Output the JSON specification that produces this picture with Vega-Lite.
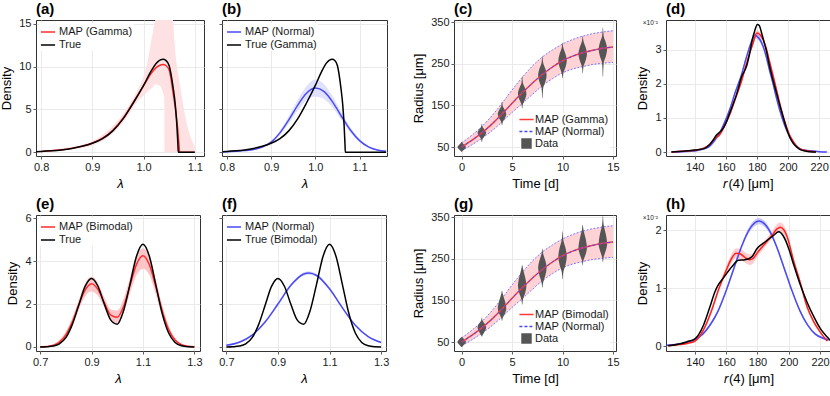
{
"$schema": "https://vega.github.io/schema/vega-lite/v6.json",
"padding": {"left": 0, "top": 1, "right": 0, "bottom": 0},
"config": {
  "font": "Liberation Sans",
  "view": {"stroke": "#333333", "strokeWidth": 1},
  "axis": {"domain": false, "grid": true, "gridColor": "#e4e4e4", "gridWidth": 0.8, "tickColor": "#333333", "tickSize": 3, "tickWidth": 0.8, "labelFontSize": 11, "labelColor": "#1a1a1a", "titleFontSize": 13, "titleFontWeight": "normal", "titleColor": "#000000", "labelPadding": 2, "labelFlush": false, "labelOverlap": false, "titlePadding": 5},
  "legend": {"title": null, "labelFontSize": 11, "labelColor": "#1a1a1a", "rowPadding": 0, "padding": 1, "offset": 3, "labelOffset": 3, "symbolStrokeWidth": 1.5, "symbolSize": 200, "fillColor": "white"},
  "text": {"font": "Liberation Sans"}
},
"datasets": {
  "gamma_true": [
    {"x":0.79,"y":0.08},{"x":0.80,"y":0.1},{"x":0.82,"y":0.17},{"x":0.84,"y":0.28},{"x":0.86,"y":0.45},{"x":0.88,"y":0.7},{"x":0.90,"y":1.05},{"x":0.92,"y":1.6},{"x":0.94,"y":2.5},{"x":0.96,"y":3.9},{"x":0.98,"y":5.75},{"x":1.00,"y":7.8},{"x":1.015,"y":9.5},{"x":1.025,"y":10.4},{"x":1.032,"y":10.75},{"x":1.038,"y":10.85},{"x":1.044,"y":10.7},{"x":1.05,"y":10.1},{"x":1.0576,"y":7.6},{"x":1.062,"y":5.5},{"x":1.065,"y":3.2},{"x":1.067,"y":1.0},{"x":1.0678,"y":0},{"x":1.08,"y":0},{"x":1.1,"y":0},{"x":1.16,"y":0}
  ],
  "gamma_map": [
    {"x":0.80,"y":0.1},{"x":0.82,"y":0.17},{"x":0.84,"y":0.29},{"x":0.86,"y":0.46},{"x":0.88,"y":0.72},{"x":0.90,"y":1.08},{"x":0.92,"y":1.65},{"x":0.94,"y":2.58},{"x":0.96,"y":3.98},{"x":0.98,"y":5.85},{"x":1.00,"y":7.75},{"x":1.015,"y":9.2},{"x":1.025,"y":9.9},{"x":1.032,"y":10.15},{"x":1.038,"y":10.25},{"x":1.044,"y":10.1},{"x":1.05,"y":9.6},{"x":1.0576,"y":6.95},{"x":1.064,"y":4.2},{"x":1.067,"y":2.5},{"x":1.069,"y":1.0},{"x":1.0705,"y":0},{"x":1.08,"y":0},{"x":1.1,"y":0}
  ],
  "a_band": [
    {"x":0.8,"lo":0.05,"hi":0.15},{"x":0.85,"lo":0.3,"hi":0.55},{"x":0.9,"lo":0.8,"hi":1.3},{"x":0.95,"lo":2.8,"hi":3.7},{"x":0.97,"lo":4.3,"hi":5.3},{"x":0.989,"lo":6.0,"hi":7.35},{"x":1.0,"lo":6.6,"hi":8.8},{"x":1.0086,"lo":7.15,"hi":10.8},{"x":1.018,"lo":7.6,"hi":13.95},{"x":1.023,"lo":7.9,"hi":15.5},{"x":1.025,"lo":7.9,"hi":15.9},{"x":1.03,"lo":7.8,"hi":17},{"x":1.033,"lo":7.7,"hi":17},{"x":1.038,"lo":6.95,"hi":17},{"x":1.0405,"lo":6.5,"hi":17},{"x":1.041,"lo":0,"hi":17},{"x":1.055,"lo":0,"hi":17},{"x":1.0576,"lo":0,"hi":15.4},{"x":1.061,"lo":0,"hi":12.4},{"x":1.0706,"lo":0,"hi":8.1},{"x":1.08,"lo":0,"hi":4.6},{"x":1.09,"lo":0,"hi":2.1},{"x":1.1,"lo":0,"hi":0.73}
  ],
  "normal_b": [
    {"x":0.79,"y":0.06,"lo":0.04,"hi":0.08},{"x":0.80,"y":0.08,"lo":0.05,"hi":0.11},{"x":0.82,"y":0.13,"lo":0.09,"hi":0.17},{"x":0.84,"y":0.2,"lo":0.15,"hi":0.26},{"x":0.86,"y":0.32,"lo":0.26,"hi":0.4},{"x":0.88,"y":0.62,"lo":0.52,"hi":0.72},{"x":0.90,"y":1.18,"lo":1.05,"hi":1.32},{"x":0.92,"y":2.27,"lo":2.0,"hi":2.55},{"x":0.94,"y":3.78,"lo":3.35,"hi":4.2},{"x":0.96,"y":5.48,"lo":4.85,"hi":6.1},{"x":0.98,"y":6.88,"lo":6.05,"hi":7.7},{"x":1.00,"y":7.49,"lo":6.5,"hi":8.5},{"x":1.02,"y":7.08,"lo":6.2,"hi":7.95},{"x":1.04,"y":5.8,"lo":5.15,"hi":6.45},{"x":1.06,"y":4.12,"lo":3.7,"hi":4.55},{"x":1.08,"y":2.54,"lo":2.25,"hi":2.85},{"x":1.10,"y":1.36,"lo":1.2,"hi":1.55},{"x":1.12,"y":0.63,"lo":0.53,"hi":0.75},{"x":1.14,"y":0.27,"lo":0.2,"hi":0.35},{"x":1.16,"y":0.12,"lo":0.08,"hi":0.17}
  ],
  "growth": [
    {"t":0,"r":50,"lo":41,"hi":60},{"t":1,"r":66,"lo":55,"hi":78},{"t":2,"r":84,"lo":71,"hi":99},{"t":3,"r":105,"lo":89,"hi":125},{"t":4,"r":129,"lo":110,"hi":155},{"t":5,"r":155,"lo":133,"hi":187},{"t":6,"r":180,"lo":154,"hi":217},{"t":7,"r":203,"lo":176,"hi":244},{"t":8,"r":224,"lo":197,"hi":266},{"t":9,"r":242,"lo":214,"hi":283},{"t":10,"r":257,"lo":228,"hi":297},{"t":11,"r":268,"lo":237,"hi":308},{"t":12,"r":276,"lo":243,"hi":316},{"t":13,"r":282,"lo":248,"hi":322},{"t":14,"r":287,"lo":251,"hi":326},{"t":15,"r":290,"lo":253,"hi":329}
  ],
  "c_viol": [
    {"t":0,"r":38,"lo":-0.02,"hi":0.02},{"t":0,"r":41,"lo":-0.1,"hi":0.1},{"t":0,"r":45.5,"lo":-0.3,"hi":0.3},{"t":0,"r":50,"lo":-0.42,"hi":0.42},{"t":0,"r":54.5,"lo":-0.3,"hi":0.3},{"t":0,"r":59,"lo":-0.1,"hi":0.1},{"t":0,"r":62,"lo":-0.02,"hi":0.02},
    {"t":2,"r":62,"lo":1.98,"hi":2.02},{"t":2,"r":70,"lo":1.92,"hi":2.08},{"t":2,"r":77,"lo":1.7,"hi":2.3},{"t":2,"r":84,"lo":1.58,"hi":2.42},{"t":2,"r":91,"lo":1.7,"hi":2.3},{"t":2,"r":98,"lo":1.92,"hi":2.08},{"t":2,"r":106,"lo":1.98,"hi":2.02},
    {"t":4,"r":102,"lo":3.98,"hi":4.02},{"t":4,"r":110,"lo":3.92,"hi":4.08},{"t":4,"r":119.5,"lo":3.7,"hi":4.3},{"t":4,"r":129,"lo":3.58,"hi":4.42},{"t":4,"r":138.5,"lo":3.7,"hi":4.3},{"t":4,"r":148,"lo":3.92,"hi":4.08},{"t":4,"r":159,"lo":3.98,"hi":4.02},
    {"t":6,"r":143,"lo":5.98,"hi":6.02},{"t":6,"r":153,"lo":5.92,"hi":6.08},{"t":6,"r":165.5,"lo":5.7,"hi":6.3},{"t":6,"r":178,"lo":5.58,"hi":6.42},{"t":6,"r":190.5,"lo":5.7,"hi":6.3},{"t":6,"r":203,"lo":5.92,"hi":6.08},{"t":6,"r":219,"lo":5.98,"hi":6.02},
    {"t":8,"r":167,"lo":7.98,"hi":8.02},{"t":8,"r":191,"lo":7.92,"hi":8.08},{"t":8,"r":206.5,"lo":7.7,"hi":8.3},{"t":8,"r":222,"lo":7.58,"hi":8.42},{"t":8,"r":237,"lo":7.7,"hi":8.3},{"t":8,"r":252,"lo":7.92,"hi":8.08},{"t":8,"r":268,"lo":7.98,"hi":8.02},
    {"t":10,"r":215,"lo":9.98,"hi":10.02},{"t":10,"r":227,"lo":9.92,"hi":10.08},{"t":10,"r":242,"lo":9.7,"hi":10.3},{"t":10,"r":257,"lo":9.58,"hi":10.42},{"t":10,"r":272.5,"lo":9.7,"hi":10.3},{"t":10,"r":288,"lo":9.92,"hi":10.08},{"t":10,"r":300,"lo":9.98,"hi":10.02},
    {"t":12,"r":227,"lo":11.98,"hi":12.02},{"t":12,"r":243,"lo":11.92,"hi":12.08},{"t":12,"r":258.5,"lo":11.7,"hi":12.3},{"t":12,"r":274,"lo":11.58,"hi":12.42},{"t":12,"r":289,"lo":11.7,"hi":12.3},{"t":12,"r":304,"lo":11.92,"hi":12.08},{"t":12,"r":316,"lo":11.98,"hi":12.02},
    {"t":14,"r":219,"lo":13.98,"hi":14.02},{"t":14,"r":252,"lo":13.92,"hi":14.08},{"t":14,"r":268.5,"lo":13.7,"hi":14.3},{"t":14,"r":285,"lo":13.58,"hi":14.42},{"t":14,"r":300.5,"lo":13.7,"hi":14.3},{"t":14,"r":316,"lo":13.92,"hi":14.08},{"t":14,"r":336,"lo":13.98,"hi":14.02}
  ],
  "g_viol": [
    {"t":0,"r":38,"lo":-0.02,"hi":0.02},{"t":0,"r":40,"lo":-0.1,"hi":0.1},{"t":0,"r":45,"lo":-0.3,"hi":0.3},{"t":0,"r":50,"lo":-0.42,"hi":0.42},{"t":0,"r":55,"lo":-0.3,"hi":0.3},{"t":0,"r":60,"lo":-0.1,"hi":0.1},{"t":0,"r":62,"lo":-0.02,"hi":0.02},
    {"t":2,"r":63,"lo":1.98,"hi":2.02},{"t":2,"r":67,"lo":1.92,"hi":2.08},{"t":2,"r":76,"lo":1.7,"hi":2.3},{"t":2,"r":85,"lo":1.58,"hi":2.42},{"t":2,"r":93,"lo":1.7,"hi":2.3},{"t":2,"r":101,"lo":1.92,"hi":2.08},{"t":2,"r":108,"lo":1.98,"hi":2.02},
    {"t":4,"r":101,"lo":3.98,"hi":4.02},{"t":4,"r":108,"lo":3.92,"hi":4.08},{"t":4,"r":119,"lo":3.7,"hi":4.3},{"t":4,"r":130,"lo":3.58,"hi":4.42},{"t":4,"r":147,"lo":3.7,"hi":4.3},{"t":4,"r":165,"lo":3.92,"hi":4.08},{"t":4,"r":173,"lo":3.98,"hi":4.02},
    {"t":6,"r":140,"lo":5.98,"hi":6.02},{"t":6,"r":152,"lo":5.92,"hi":6.08},{"t":6,"r":168,"lo":5.7,"hi":6.3},{"t":6,"r":185,"lo":5.58,"hi":6.42},{"t":6,"r":205,"lo":5.7,"hi":6.3},{"t":6,"r":226,"lo":5.92,"hi":6.08},{"t":6,"r":234,"lo":5.98,"hi":6.02},
    {"t":8,"r":181,"lo":7.98,"hi":8.02},{"t":8,"r":193,"lo":7.92,"hi":8.08},{"t":8,"r":210,"lo":7.7,"hi":8.3},{"t":8,"r":228,"lo":7.58,"hi":8.42},{"t":8,"r":245,"lo":7.7,"hi":8.3},{"t":8,"r":262,"lo":7.92,"hi":8.08},{"t":8,"r":274,"lo":7.98,"hi":8.02},
    {"t":10,"r":201,"lo":9.98,"hi":10.02},{"t":10,"r":218,"lo":9.92,"hi":10.08},{"t":10,"r":236,"lo":9.7,"hi":10.3},{"t":10,"r":255,"lo":9.58,"hi":10.42},{"t":10,"r":275,"lo":9.7,"hi":10.3},{"t":10,"r":295,"lo":9.92,"hi":10.08},{"t":10,"r":315,"lo":9.98,"hi":10.02},
    {"t":12,"r":234,"lo":11.98,"hi":12.02},{"t":12,"r":246,"lo":11.92,"hi":12.08},{"t":12,"r":261,"lo":11.7,"hi":12.3},{"t":12,"r":276,"lo":11.58,"hi":12.42},{"t":12,"r":297,"lo":11.7,"hi":12.3},{"t":12,"r":319,"lo":11.92,"hi":12.08},{"t":12,"r":331,"lo":11.98,"hi":12.02},
    {"t":14,"r":242,"lo":13.98,"hi":14.02},{"t":14,"r":254,"lo":13.92,"hi":14.08},{"t":14,"r":270,"lo":13.7,"hi":14.3},{"t":14,"r":285,"lo":13.58,"hi":14.42},{"t":14,"r":308,"lo":13.7,"hi":14.3},{"t":14,"r":331,"lo":13.92,"hi":14.08},{"t":14,"r":352,"lo":13.98,"hi":14.02}
  ],
  "d_true": [
    {"x":125,"y":0},{"x":132,"y":0.02},{"x":140,"y":0.06},{"x":146,"y":0.1},{"x":149.6,"y":0.22},{"x":152,"y":0.36},{"x":154,"y":0.5},{"x":156,"y":0.58},{"x":158,"y":0.68},{"x":160,"y":0.85},{"x":162.5,"y":1.15},{"x":165,"y":1.45},{"x":166.8,"y":1.68},{"x":168.5,"y":1.95},{"x":170,"y":2.2},{"x":172,"y":2.38},{"x":173.5,"y":2.55},{"x":175.3,"y":2.9},{"x":177,"y":3.3},{"x":178.5,"y":3.55},{"x":180.3,"y":3.75},{"x":181.5,"y":3.72},{"x":183,"y":3.5},{"x":184.5,"y":3.25},{"x":186,"y":2.99},{"x":188,"y":2.55},{"x":190.3,"y":2.12},{"x":192.5,"y":1.75},{"x":194.6,"y":1.39},{"x":196.7,"y":1.05},{"x":198.9,"y":0.71},{"x":201,"y":0.45},{"x":203.2,"y":0.27},{"x":205.5,"y":0.15},{"x":207.5,"y":0.08},{"x":211,"y":0.03},{"x":216,"y":0},{"x":218,"y":0}
  ],
  "d_red": [
    {"x":125,"y":0,"lo":0,"hi":0.01},{"x":132,"y":0.02,"lo":0.01,"hi":0.03},{"x":140,"y":0.05,"lo":0.03,"hi":0.07},{"x":145,"y":0.1,"lo":0.08,"hi":0.12},{"x":149.6,"y":0.22,"lo":0.19,"hi":0.25},{"x":153,"y":0.4,"lo":0.37,"hi":0.44},{"x":156,"y":0.51,"lo":0.47,"hi":0.55},{"x":159,"y":0.75,"lo":0.71,"hi":0.8},{"x":162.5,"y":1.1,"lo":1.05,"hi":1.16},{"x":166,"y":1.55,"lo":1.5,"hi":1.61},{"x":170,"y":2.07,"lo":2.01,"hi":2.14},{"x":173,"y":2.55,"lo":2.48,"hi":2.62},{"x":175.3,"y":2.9,"lo":2.83,"hi":2.97},{"x":177.5,"y":3.2,"lo":3.12,"hi":3.28},{"x":180,"y":3.5,"lo":3.42,"hi":3.58},{"x":182,"y":3.45,"lo":3.37,"hi":3.53},{"x":184,"y":3.3,"lo":3.22,"hi":3.38},{"x":186,"y":3.04,"lo":2.97,"hi":3.11},{"x":188,"y":2.68,"lo":2.61,"hi":2.75},{"x":190.3,"y":2.26,"lo":2.2,"hi":2.32},{"x":192.5,"y":1.85,"lo":1.8,"hi":1.9},{"x":194.6,"y":1.44,"lo":1.4,"hi":1.49},{"x":196.7,"y":1.08,"lo":1.04,"hi":1.12},{"x":198.9,"y":0.76,"lo":0.73,"hi":0.8},{"x":201,"y":0.5,"lo":0.47,"hi":0.53},{"x":203.2,"y":0.32,"lo":0.3,"hi":0.35},{"x":205.5,"y":0.18,"lo":0.16,"hi":0.2},{"x":207.5,"y":0.1,"lo":0.09,"hi":0.12},{"x":210.5,"y":0.05,"lo":0.04,"hi":0.06},{"x":213.9,"y":0.02,"lo":0.01,"hi":0.03},{"x":218,"y":0,"lo":0,"hi":0.01}
  ],
  "d_blue": [
    {"x":125,"y":0,"lo":0,"hi":0.01},{"x":132,"y":0.01,"lo":0,"hi":0.02},{"x":140,"y":0.03,"lo":0.02,"hi":0.05},{"x":145,"y":0.08,"lo":0.06,"hi":0.1},{"x":149.6,"y":0.17,"lo":0.14,"hi":0.2},{"x":153,"y":0.35,"lo":0.31,"hi":0.39},{"x":156,"y":0.56,"lo":0.52,"hi":0.6},{"x":159,"y":0.85,"lo":0.8,"hi":0.9},{"x":162.5,"y":1.25,"lo":1.19,"hi":1.31},{"x":166,"y":1.75,"lo":1.69,"hi":1.81},{"x":170,"y":2.26,"lo":2.19,"hi":2.33},{"x":173,"y":2.75,"lo":2.68,"hi":2.82},{"x":175.3,"y":3.09,"lo":3.01,"hi":3.17},{"x":177,"y":3.3,"lo":3.22,"hi":3.38},{"x":178.5,"y":3.43,"lo":3.35,"hi":3.51},{"x":180,"y":3.4,"lo":3.32,"hi":3.48},{"x":182,"y":3.3,"lo":3.22,"hi":3.38},{"x":184,"y":3.1,"lo":3.03,"hi":3.17},{"x":186,"y":2.8,"lo":2.73,"hi":2.87},{"x":188,"y":2.42,"lo":2.36,"hi":2.48},{"x":190.3,"y":2.02,"lo":1.96,"hi":2.08},{"x":192.5,"y":1.6,"lo":1.55,"hi":1.65},{"x":194.6,"y":1.24,"lo":1.2,"hi":1.28},{"x":196.7,"y":0.93,"lo":0.89,"hi":0.97},{"x":198.9,"y":0.66,"lo":0.63,"hi":0.69},{"x":201,"y":0.45,"lo":0.42,"hi":0.48},{"x":203.2,"y":0.27,"lo":0.25,"hi":0.3},{"x":205.5,"y":0.16,"lo":0.14,"hi":0.18},{"x":207.5,"y":0.1,"lo":0.09,"hi":0.12},{"x":211,"y":0.05,"lo":0.04,"hi":0.06},{"x":216,"y":0.03,"lo":0.02,"hi":0.04},{"x":220,"y":0.01,"lo":0,"hi":0.02},{"x":225,"y":0,"lo":0,"hi":0.01}
  ],
  "bimodal_true": [
    {"x":0.70,"y":0.0},{"x":0.725,"y":0.01},{"x":0.75,"y":0.04},{"x":0.775,"y":0.14},{"x":0.80,"y":0.43},{"x":0.825,"y":1.04},{"x":0.85,"y":1.93},{"x":0.875,"y":2.82},{"x":0.90,"y":3.19},{"x":0.925,"y":2.83},{"x":0.95,"y":1.99},{"x":0.975,"y":1.25},{"x":1.0,"y":1.06},{"x":1.025,"y":1.70},{"x":1.05,"y":2.94},{"x":1.075,"y":4.23},{"x":1.10,"y":4.79},{"x":1.125,"y":4.23},{"x":1.15,"y":2.905},{"x":1.175,"y":1.555},{"x":1.2,"y":0.648},{"x":1.225,"y":0.21},{"x":1.25,"y":0.053},{"x":1.275,"y":0.011},{"x":1.3,"y":0.002}
  ],
  "e_map": [
    {"x":0.70,"y":0.004,"lo":0.0,"hi":0.01},{"x":0.725,"y":0.02,"lo":0.01,"hi":0.04},{"x":0.75,"y":0.07,"lo":0.04,"hi":0.12},{"x":0.775,"y":0.22,"lo":0.14,"hi":0.32},{"x":0.80,"y":0.56,"lo":0.42,"hi":0.72},{"x":0.825,"y":1.16,"lo":0.98,"hi":1.35},{"x":0.85,"y":1.95,"lo":1.72,"hi":2.18},{"x":0.875,"y":2.65,"lo":2.35,"hi":2.95},{"x":0.90,"y":2.95,"lo":2.58,"hi":3.28},{"x":0.925,"y":2.68,"lo":2.38,"hi":2.98},{"x":0.95,"y":2.05,"lo":1.82,"hi":2.3},{"x":0.975,"y":1.48,"lo":1.25,"hi":1.75},{"x":1.0,"y":1.38,"lo":1.1,"hi":1.7},{"x":1.025,"y":1.9,"lo":1.6,"hi":2.25},{"x":1.05,"y":2.88,"lo":2.5,"hi":3.25},{"x":1.075,"y":3.85,"lo":3.35,"hi":4.3},{"x":1.1,"y":4.25,"lo":3.65,"hi":4.6},{"x":1.125,"y":3.83,"lo":3.35,"hi":4.25},{"x":1.15,"y":2.81,"lo":2.45,"hi":3.15},{"x":1.175,"y":1.68,"lo":1.42,"hi":1.95},{"x":1.2,"y":0.81,"lo":0.64,"hi":1.0},{"x":1.225,"y":0.32,"lo":0.22,"hi":0.42},{"x":1.25,"y":0.1,"lo":0.06,"hi":0.15},{"x":1.275,"y":0.027,"lo":0.01,"hi":0.05},{"x":1.3,"y":0.006,"lo":0.0,"hi":0.015}
  ],
  "f_map": [
    {"x":0.70,"y":0.075,"lo":0.05,"hi":0.1},{"x":0.75,"y":0.22,"lo":0.19,"hi":0.25},{"x":0.80,"y":0.55,"lo":0.5,"hi":0.6},{"x":0.85,"y":1.16,"lo":1.1,"hi":1.22},{"x":0.90,"y":2.0,"lo":1.93,"hi":2.07},{"x":0.95,"y":2.87,"lo":2.8,"hi":2.94},{"x":1.00,"y":3.4,"lo":3.33,"hi":3.48},{"x":1.02,"y":3.45,"lo":3.37,"hi":3.53},{"x":1.05,"y":3.33,"lo":3.26,"hi":3.41},{"x":1.10,"y":2.71,"lo":2.64,"hi":2.78},{"x":1.15,"y":1.82,"lo":1.76,"hi":1.88},{"x":1.20,"y":1.01,"lo":0.96,"hi":1.06},{"x":1.25,"y":0.48,"lo":0.44,"hi":0.52},{"x":1.30,"y":0.21,"lo":0.18,"hi":0.24}
  ],
  "h_true": [
    {"x":122.9,"y":0.01},{"x":130,"y":0.04},{"x":135,"y":0.08},{"x":140,"y":0.13},{"x":145.4,"y":0.36},{"x":149.6,"y":0.68},{"x":152.8,"y":0.94},{"x":155,"y":1.06},{"x":158,"y":1.17},{"x":163.6,"y":1.37},{"x":167.8,"y":1.48},{"x":172,"y":1.49},{"x":176.4,"y":1.54},{"x":179.6,"y":1.68},{"x":185,"y":1.8},{"x":190.3,"y":1.91},{"x":193.5,"y":1.97},{"x":196.7,"y":1.89},{"x":200,"y":1.68},{"x":203.2,"y":1.4},{"x":207.5,"y":1.05},{"x":211.7,"y":0.76},{"x":216,"y":0.51},{"x":220.3,"y":0.3},{"x":224.6,"y":0.16},{"x":227,"y":0.09}
  ],
  "h_red": [
    {"x":122.9,"y":0.01,"lo":0.0,"hi":0.02},{"x":130,"y":0.03,"lo":0.02,"hi":0.04},{"x":135,"y":0.05,"lo":0.04,"hi":0.07},{"x":140,"y":0.09,"lo":0.07,"hi":0.11},{"x":145.4,"y":0.28,"lo":0.25,"hi":0.31},{"x":150.7,"y":0.62,"lo":0.58,"hi":0.66},{"x":155,"y":0.97,"lo":0.92,"hi":1.02},{"x":160,"y":1.31,"lo":1.24,"hi":1.38},{"x":163.6,"y":1.52,"lo":1.44,"hi":1.6},{"x":166.3,"y":1.6,"lo":1.51,"hi":1.69},{"x":169,"y":1.59,"lo":1.5,"hi":1.68},{"x":171.5,"y":1.54,"lo":1.45,"hi":1.63},{"x":174.9,"y":1.49,"lo":1.4,"hi":1.58},{"x":177.5,"y":1.52,"lo":1.44,"hi":1.6},{"x":179.6,"y":1.6,"lo":1.53,"hi":1.67},{"x":183.9,"y":1.74,"lo":1.68,"hi":1.8},{"x":189.3,"y":1.91,"lo":1.85,"hi":1.98},{"x":192.5,"y":2.02,"lo":1.95,"hi":2.1},{"x":194.6,"y":2.05,"lo":1.97,"hi":2.13},{"x":196.7,"y":2.01,"lo":1.93,"hi":2.09},{"x":198.9,"y":1.89,"lo":1.82,"hi":1.96},{"x":203,"y":1.48,"lo":1.42,"hi":1.54},{"x":207.5,"y":1.08,"lo":1.03,"hi":1.13},{"x":211.7,"y":0.68,"lo":0.64,"hi":0.72},{"x":216,"y":0.42,"lo":0.39,"hi":0.45},{"x":220,"y":0.25,"lo":0.23,"hi":0.27},{"x":224.6,"y":0.09,"lo":0.08,"hi":0.11}
  ],
  "h_blue": [
    {"x":122,"y":0.02,"lo":0.01,"hi":0.03},{"x":130,"y":0.04,"lo":0.03,"hi":0.05},{"x":140,"y":0.12,"lo":0.1,"hi":0.14},{"x":145,"y":0.21,"lo":0.19,"hi":0.23},{"x":150,"y":0.38,"lo":0.35,"hi":0.41},{"x":155,"y":0.62,"lo":0.59,"hi":0.65},{"x":160,"y":0.96,"lo":0.93,"hi":0.99},{"x":165,"y":1.35,"lo":1.31,"hi":1.39},{"x":170,"y":1.73,"lo":1.69,"hi":1.77},{"x":175,"y":2.02,"lo":1.97,"hi":2.07},{"x":181,"y":2.155,"lo":2.1,"hi":2.21},{"x":187,"y":2.02,"lo":1.97,"hi":2.07},{"x":192,"y":1.73,"lo":1.69,"hi":1.77},{"x":197,"y":1.35,"lo":1.31,"hi":1.39},{"x":202,"y":0.96,"lo":0.93,"hi":0.99},{"x":207,"y":0.62,"lo":0.59,"hi":0.65},{"x":212,"y":0.37,"lo":0.35,"hi":0.39},{"x":217,"y":0.21,"lo":0.19,"hi":0.23},{"x":222,"y":0.14,"lo":0.12,"hi":0.16},{"x":225.5,"y":0.11,"lo":0.09,"hi":0.13}
  ]
},
"columns": 7,
"spacing": {"row": 59, "column": 0},
"bounds": "flush",
"align": "none",
"resolve": {"scale": {"color": "independent"}, "legend": {"color": "independent"}},
"concat": [
  {
    "width": 168, "height": 136,
    "layer": [
      {"data": {"name": "a_band"}, "mark": {"type": "area", "color": "#fde1e3", "clip": true, "interpolate": "monotone"},
       "encoding": {
         "x": {"field": "x", "type": "quantitative", "scale": {"domain": [0.79, 1.118], "nice": false, "zero": false}, "axis": {"values": [0.8, 0.9, 1.0, 1.1], "format": ".1f", "titleFontStyle": "italic"}, "title": "λ"},
         "y": {"field": "lo", "type": "quantitative", "scale": {"domain": [-0.43, 15.43], "nice": false, "zero": false}, "axis": {"values": [0, 5, 10, 15]}, "title": "Density"},
         "y2": {"field": "hi"}}},
      {"data": {"name": "gamma_map"}, "mark": {"type": "line", "strokeWidth": 1.5, "interpolate": "monotone", "clip": true},
       "encoding": {"x": {"field": "x", "type": "quantitative"}, "y": {"field": "y", "type": "quantitative"},
         "color": {"datum": "MAP (Gamma)", "scale": {"domain": ["MAP (Gamma)", "True"], "range": ["#ff2d2d", "#000000"]}, "legend": {"orient": "top-left", "symbolType": "stroke"}}}},
      {"data": {"name": "gamma_true"}, "transform": [{"filter": "datum.x <= 1.1001"}], "mark": {"type": "line", "strokeWidth": 1.5, "interpolate": "monotone", "clip": true},
       "encoding": {"x": {"field": "x", "type": "quantitative"}, "y": {"field": "y", "type": "quantitative"}, "color": {"datum": "True"}}},
      {"data": {"values": [{"lab": "(a)"}]}, "mark": {"type": "text", "fontSize": 15, "fontWeight": "bold", "align": "left", "baseline": "alphabetic", "dy": -6, "color": "#000000"},
       "encoding": {"text": {"field": "lab"}, "x": {"datum": 0.79}, "y": {"datum": 15.43}}}
    ]
  },
  {"width": 14, "height": 136, "view": {"stroke": null}, "data": {"values": [{}]}, "mark": {"type": "point", "opacity": 0}},
  {
    "width": 165, "height": 136,
    "layer": [
      {"data": {"name": "normal_b"}, "mark": {"type": "area", "color": "#dfe1ff", "clip": true, "interpolate": "monotone"},
       "encoding": {
         "x": {"field": "x", "type": "quantitative", "scale": {"domain": [0.789, 1.162], "nice": false, "zero": false}, "axis": {"values": [0.8, 0.9, 1.0, 1.1], "format": ".1f", "titleFontStyle": "italic"}, "title": "λ"},
         "y": {"field": "lo", "type": "quantitative", "scale": {"domain": [-0.43, 15.43], "nice": false, "zero": false}, "axis": {"values": [0, 5, 10, 15], "labels": false}, "title": null},
         "y2": {"field": "hi"}}},
      {"data": {"name": "normal_b"}, "mark": {"type": "line", "strokeWidth": 1.5, "interpolate": "monotone", "clip": true},
       "encoding": {"x": {"field": "x", "type": "quantitative"}, "y": {"field": "y", "type": "quantitative"},
         "color": {"datum": "MAP (Normal)", "scale": {"domain": ["MAP (Normal)", "True (Gamma)"], "range": ["#4a4af5", "#000000"]}, "legend": {"orient": "top-left", "symbolType": "stroke"}}}},
      {"data": {"name": "gamma_true"}, "mark": {"type": "line", "strokeWidth": 1.5, "interpolate": "monotone", "clip": true},
       "encoding": {"x": {"field": "x", "type": "quantitative"}, "y": {"field": "y", "type": "quantitative"}, "color": {"datum": "True (Gamma)"}}},
      {"data": {"values": [{"lab": "(b)"}]}, "mark": {"type": "text", "fontSize": 15, "fontWeight": "bold", "align": "left", "baseline": "alphabetic", "dy": -6, "color": "#000000"},
       "encoding": {"text": {"field": "lab"}, "x": {"datum": 0.789}, "y": {"datum": 15.43}}}
    ]
  },
  {"width": 67, "height": 136, "view": {"stroke": null}, "data": {"values": [{}]}, "mark": {"type": "point", "opacity": 0}},
  {
    "width": 162, "height": 136,
    "layer": [
      {"data": {"name": "growth"}, "mark": {"type": "area", "color": "#ffd2d6", "interpolate": "monotone"},
       "encoding": {
         "x": {"field": "t", "type": "quantitative", "scale": {"domain": [-0.76, 15.3], "nice": false, "zero": false}, "axis": {"values": [0, 5, 10, 15]}, "title": "Time [d]"},
         "y": {"field": "lo", "type": "quantitative", "scale": {"domain": [28.4, 354.8], "nice": false, "zero": false}, "axis": {"values": [50, 100, 150, 200, 250, 300, 350]}, "title": "Radius [μm]"},
         "y2": {"field": "hi"}}},
      {"data": {"name": "growth"}, "mark": {"type": "line", "color": "#6b6bff", "strokeWidth": 0.9, "strokeDash": [2, 1.5], "interpolate": "monotone"},
       "encoding": {"x": {"field": "t", "type": "quantitative"}, "y": {"field": "hi", "type": "quantitative"}}},
      {"data": {"name": "growth"}, "mark": {"type": "line", "color": "#6b6bff", "strokeWidth": 0.9, "strokeDash": [2, 1.5], "interpolate": "monotone"},
       "encoding": {"x": {"field": "t", "type": "quantitative"}, "y": {"field": "lo", "type": "quantitative"}}},
      {"data": {"name": "c_viol"}, "mark": {"type": "area", "orient": "horizontal", "color": "#555555", "interpolate": "monotone"},
       "encoding": {"y": {"field": "r", "type": "quantitative"}, "x": {"field": "lo", "type": "quantitative"}, "x2": {"field": "hi"}, "detail": {"field": "t"}}},
      {"data": {"name": "growth"}, "mark": {"type": "line", "strokeWidth": 1.5, "interpolate": "monotone"},
       "encoding": {"x": {"field": "t", "type": "quantitative"}, "y": {"field": "r", "type": "quantitative"},
         "color": {"datum": "MAP (Gamma)", "scale": {"domain": ["MAP (Gamma)", "MAP (Normal)", "Data"], "range": ["#ff3b3b", "#4a4af5", "#555555"]},
           "legend": {"orient": "bottom-right", "symbolType": "stroke", "fillColor": null, "offset": 6,
             "encode": {"symbols": {"update": {
               "shape": {"signal": "datum.label === 'Data' ? 'square' : 'stroke'"},
               "fill": {"signal": "datum.label === 'Data' ? '#555555' : 'transparent'"},
               "strokeDash": {"signal": "datum.label === 'MAP (Normal)' ? [3, 2] : [1, 0]"},
               "size": {"signal": "datum.label === 'Data' ? 110 : 200"},
               "strokeWidth": {"signal": "datum.label === 'Data' ? 0 : 1.5"}}}}}}}},
      {"data": {"name": "growth"}, "mark": {"type": "line", "strokeWidth": 1, "strokeDash": [3, 2], "interpolate": "monotone"},
       "encoding": {"x": {"field": "t", "type": "quantitative"}, "y": {"field": "r", "type": "quantitative"}, "color": {"datum": "MAP (Normal)"}}},
      {"data": {"values": [{"lab": "(c)"}]}, "mark": {"type": "text", "fontSize": 15, "fontWeight": "bold", "align": "left", "baseline": "alphabetic", "dy": -6, "color": "#000000"},
       "encoding": {"text": {"field": "lab"}, "x": {"datum": -0.76}, "y": {"datum": 354.8}}}
    ]
  },
  {"width": 50, "height": 136, "view": {"stroke": null}, "data": {"values": [{}]}, "mark": {"type": "point", "opacity": 0}},
  {
    "width": 164, "height": 136,
    "layer": [
      {"data": {"name": "d_red"}, "mark": {"type": "area", "color": "#ff7070", "opacity": 0.35, "interpolate": "monotone"},
       "encoding": {
         "x": {"field": "x", "type": "quantitative", "scale": {"domain": [121.5, 227], "nice": false, "zero": false}, "axis": {"values": [140, 160, 180, 200, 220]}, "title": "𝑟(4) [μm]"},
         "y": {"field": "lo", "type": "quantitative", "scale": {"domain": [-0.117, 3.88], "nice": false, "zero": false}, "axis": {"values": [0, 1, 2, 3]}, "title": "Density"},
         "y2": {"field": "hi"}}},
      {"data": {"name": "d_blue"}, "mark": {"type": "area", "color": "#7070ff", "opacity": 0.35, "interpolate": "monotone"},
       "encoding": {"x": {"field": "x", "type": "quantitative"}, "y": {"field": "lo", "type": "quantitative"}, "y2": {"field": "hi"}}},
      {"data": {"name": "d_blue"}, "mark": {"type": "line", "color": "#4a4af5", "strokeWidth": 1.5, "interpolate": "monotone"},
       "encoding": {"x": {"field": "x", "type": "quantitative"}, "y": {"field": "y", "type": "quantitative"}}},
      {"data": {"name": "d_red"}, "mark": {"type": "line", "color": "#ff2020", "strokeWidth": 1.5, "interpolate": "monotone"},
       "encoding": {"x": {"field": "x", "type": "quantitative"}, "y": {"field": "y", "type": "quantitative"}}},
      {"data": {"name": "d_true"}, "mark": {"type": "line", "color": "#000000", "strokeWidth": 1.5, "interpolate": "monotone"},
       "encoding": {"x": {"field": "x", "type": "quantitative"}, "y": {"field": "y", "type": "quantitative"}}},
      {"data": {"values": [{"note": "×10⁻²"}]}, "mark": {"type": "text", "fontSize": 6.5, "align": "right", "baseline": "middle", "dx": -8, "dy": 3, "color": "#1a1a1a"},
       "encoding": {"text": {"field": "note"}, "x": {"datum": 121.5}, "y": {"datum": 3.88}}},
      {"data": {"values": [{"lab": "(d)"}]}, "mark": {"type": "text", "fontSize": 15, "fontWeight": "bold", "align": "left", "baseline": "alphabetic", "dy": -6, "color": "#000000"},
       "encoding": {"text": {"field": "lab"}, "x": {"datum": 121.5}, "y": {"datum": 3.88}}}
    ]
  },
  {
    "width": 164, "height": 136,
    "layer": [
      {"data": {"name": "e_map"}, "mark": {"type": "area", "color": "#fcc6c9", "interpolate": "monotone"},
       "encoding": {
         "x": {"field": "x", "type": "quantitative", "scale": {"domain": [0.684, 1.322], "nice": false, "zero": false}, "axis": {"values": [0.7, 0.8, 0.9, 1.0, 1.1, 1.2, 1.3], "format": ".1f", "titleFontStyle": "italic"}, "title": "λ"},
         "y": {"field": "lo", "type": "quantitative", "scale": {"domain": [-0.19, 6.15], "nice": false, "zero": false}, "axis": {"values": [0, 1, 2, 3, 4, 5, 6]}, "title": "Density"},
         "y2": {"field": "hi"}}},
      {"data": {"name": "e_map"}, "mark": {"type": "line", "strokeWidth": 1.5, "interpolate": "monotone"},
       "encoding": {"x": {"field": "x", "type": "quantitative"}, "y": {"field": "y", "type": "quantitative"},
         "color": {"datum": "MAP (Bimodal)", "scale": {"domain": ["MAP (Bimodal)", "True"], "range": ["#ff2d2d", "#000000"]}, "legend": {"orient": "top-left", "symbolType": "stroke"}}}},
      {"data": {"name": "bimodal_true"}, "mark": {"type": "line", "strokeWidth": 1.5, "interpolate": "monotone"},
       "encoding": {"x": {"field": "x", "type": "quantitative"}, "y": {"field": "y", "type": "quantitative"}, "color": {"datum": "True"}}},
      {"data": {"values": [{"lab": "(e)"}]}, "mark": {"type": "text", "fontSize": 15, "fontWeight": "bold", "align": "left", "baseline": "alphabetic", "dy": -6, "color": "#000000"},
       "encoding": {"text": {"field": "lab"}, "x": {"datum": 0.684}, "y": {"datum": 6.15}}}
    ]
  },
  {"width": 18, "height": 136, "view": {"stroke": null}, "data": {"values": [{}]}, "mark": {"type": "point", "opacity": 0}},
  {
    "width": 164, "height": 136,
    "layer": [
      {"data": {"name": "f_map"}, "mark": {"type": "area", "color": "#d9dbff", "interpolate": "monotone"},
       "encoding": {
         "x": {"field": "x", "type": "quantitative", "scale": {"domain": [0.683, 1.319], "nice": false, "zero": false}, "axis": {"values": [0.7, 0.8, 0.9, 1.0, 1.1, 1.2, 1.3], "format": ".1f", "titleFontStyle": "italic"}, "title": "λ"},
         "y": {"field": "lo", "type": "quantitative", "scale": {"domain": [-0.19, 6.15], "nice": false, "zero": false}, "axis": {"values": [0, 1, 2, 3, 4, 5, 6], "labels": false}, "title": null},
         "y2": {"field": "hi"}}},
      {"data": {"name": "f_map"}, "mark": {"type": "line", "strokeWidth": 1.5, "interpolate": "monotone"},
       "encoding": {"x": {"field": "x", "type": "quantitative"}, "y": {"field": "y", "type": "quantitative"},
         "color": {"datum": "MAP (Normal)", "scale": {"domain": ["MAP (Normal)", "True (Bimodal)"], "range": ["#4a4af5", "#000000"]}, "legend": {"orient": "top-left", "symbolType": "stroke"}}}},
      {"data": {"name": "bimodal_true"}, "mark": {"type": "line", "strokeWidth": 1.5, "interpolate": "monotone"},
       "encoding": {"x": {"field": "x", "type": "quantitative"}, "y": {"field": "y", "type": "quantitative"}, "color": {"datum": "True (Bimodal)"}}},
      {"data": {"values": [{"lab": "(f)"}]}, "mark": {"type": "text", "fontSize": 15, "fontWeight": "bold", "align": "left", "baseline": "alphabetic", "dy": -6, "color": "#000000"},
       "encoding": {"text": {"field": "lab"}, "x": {"datum": 0.683}, "y": {"datum": 6.15}}}
    ]
  },
  {"width": 67, "height": 136, "view": {"stroke": null}, "data": {"values": [{}]}, "mark": {"type": "point", "opacity": 0}},
  {
    "width": 162, "height": 136,
    "layer": [
      {"data": {"name": "growth"}, "mark": {"type": "area", "color": "#ffd2d6", "interpolate": "monotone"},
       "encoding": {
         "x": {"field": "t", "type": "quantitative", "scale": {"domain": [-0.76, 15.3], "nice": false, "zero": false}, "axis": {"values": [0, 5, 10, 15]}, "title": "Time [d]"},
         "y": {"field": "lo", "type": "quantitative", "scale": {"domain": [28.4, 354.8], "nice": false, "zero": false}, "axis": {"values": [50, 100, 150, 200, 250, 300, 350]}, "title": "Radius [μm]"},
         "y2": {"field": "hi"}}},
      {"data": {"name": "growth"}, "mark": {"type": "line", "color": "#6b6bff", "strokeWidth": 0.9, "strokeDash": [2, 1.5], "interpolate": "monotone"},
       "encoding": {"x": {"field": "t", "type": "quantitative"}, "y": {"field": "hi", "type": "quantitative"}}},
      {"data": {"name": "growth"}, "mark": {"type": "line", "color": "#6b6bff", "strokeWidth": 0.9, "strokeDash": [2, 1.5], "interpolate": "monotone"},
       "encoding": {"x": {"field": "t", "type": "quantitative"}, "y": {"field": "lo", "type": "quantitative"}}},
      {"data": {"name": "g_viol"}, "mark": {"type": "area", "orient": "horizontal", "color": "#555555", "interpolate": "monotone"},
       "encoding": {"y": {"field": "r", "type": "quantitative"}, "x": {"field": "lo", "type": "quantitative"}, "x2": {"field": "hi"}, "detail": {"field": "t"}}},
      {"data": {"name": "growth"}, "mark": {"type": "line", "strokeWidth": 1.5, "interpolate": "monotone"},
       "encoding": {"x": {"field": "t", "type": "quantitative"}, "y": {"field": "r", "type": "quantitative"},
         "color": {"datum": "MAP (Bimodal)", "scale": {"domain": ["MAP (Bimodal)", "MAP (Normal)", "Data"], "range": ["#ff3b3b", "#4a4af5", "#555555"]},
           "legend": {"orient": "bottom-right", "symbolType": "stroke", "fillColor": null, "offset": 6,
             "encode": {"symbols": {"update": {
               "shape": {"signal": "datum.label === 'Data' ? 'square' : 'stroke'"},
               "fill": {"signal": "datum.label === 'Data' ? '#555555' : 'transparent'"},
               "strokeDash": {"signal": "datum.label === 'MAP (Normal)' ? [3, 2] : [1, 0]"},
               "size": {"signal": "datum.label === 'Data' ? 110 : 200"},
               "strokeWidth": {"signal": "datum.label === 'Data' ? 0 : 1.5"}}}}}}}},
      {"data": {"name": "growth"}, "mark": {"type": "line", "strokeWidth": 1, "strokeDash": [3, 2], "interpolate": "monotone"},
       "encoding": {"x": {"field": "t", "type": "quantitative"}, "y": {"field": "r", "type": "quantitative"}, "color": {"datum": "MAP (Normal)"}}},
      {"data": {"values": [{"lab": "(g)"}]}, "mark": {"type": "text", "fontSize": 15, "fontWeight": "bold", "align": "left", "baseline": "alphabetic", "dy": -6, "color": "#000000"},
       "encoding": {"text": {"field": "lab"}, "x": {"datum": -0.76}, "y": {"datum": 354.8}}}
    ]
  },
  {"width": 50, "height": 136, "view": {"stroke": null}, "data": {"values": [{}]}, "mark": {"type": "point", "opacity": 0}},
  {
    "width": 165, "height": 136,
    "layer": [
      {"data": {"name": "h_red"}, "mark": {"type": "area", "color": "#ff7070", "opacity": 0.35, "interpolate": "monotone"},
       "encoding": {
         "x": {"field": "x", "type": "quantitative", "scale": {"domain": [121.5, 227], "nice": false, "zero": false}, "axis": {"values": [140, 160, 180, 200, 220]}, "title": "𝑟(4) [μm]"},
         "y": {"field": "lo", "type": "quantitative", "scale": {"domain": [-0.08, 2.26], "nice": false, "zero": false}, "axis": {"values": [0, 0.5, 1, 1.5, 2], "labelExpr": "datum.value % 1 === 0 ? format(datum.value, 'd') : ''"}, "title": "Density"},
         "y2": {"field": "hi"}}},
      {"data": {"name": "h_blue"}, "mark": {"type": "area", "color": "#7070ff", "opacity": 0.35, "interpolate": "monotone"},
       "encoding": {"x": {"field": "x", "type": "quantitative"}, "y": {"field": "lo", "type": "quantitative"}, "y2": {"field": "hi"}}},
      {"data": {"name": "h_blue"}, "mark": {"type": "line", "color": "#4a4af5", "strokeWidth": 1.5, "interpolate": "monotone"},
       "encoding": {"x": {"field": "x", "type": "quantitative"}, "y": {"field": "y", "type": "quantitative"}}},
      {"data": {"name": "h_red"}, "mark": {"type": "line", "color": "#ff2020", "strokeWidth": 1.5, "interpolate": "monotone"},
       "encoding": {"x": {"field": "x", "type": "quantitative"}, "y": {"field": "y", "type": "quantitative"}}},
      {"data": {"name": "h_true"}, "mark": {"type": "line", "color": "#000000", "strokeWidth": 1.5, "interpolate": "monotone"},
       "encoding": {"x": {"field": "x", "type": "quantitative"}, "y": {"field": "y", "type": "quantitative"}}},
      {"data": {"values": [{"note": "×10⁻²"}]}, "mark": {"type": "text", "fontSize": 6.5, "align": "right", "baseline": "middle", "dx": -8, "dy": 3, "color": "#1a1a1a"},
       "encoding": {"text": {"field": "note"}, "x": {"datum": 121.5}, "y": {"datum": 2.26}}},
      {"data": {"values": [{"lab": "(h)"}]}, "mark": {"type": "text", "fontSize": 15, "fontWeight": "bold", "align": "left", "baseline": "alphabetic", "dy": -6, "color": "#000000"},
       "encoding": {"text": {"field": "lab"}, "x": {"datum": 121.5}, "y": {"datum": 2.26}}}
    ]
  }
]
}
